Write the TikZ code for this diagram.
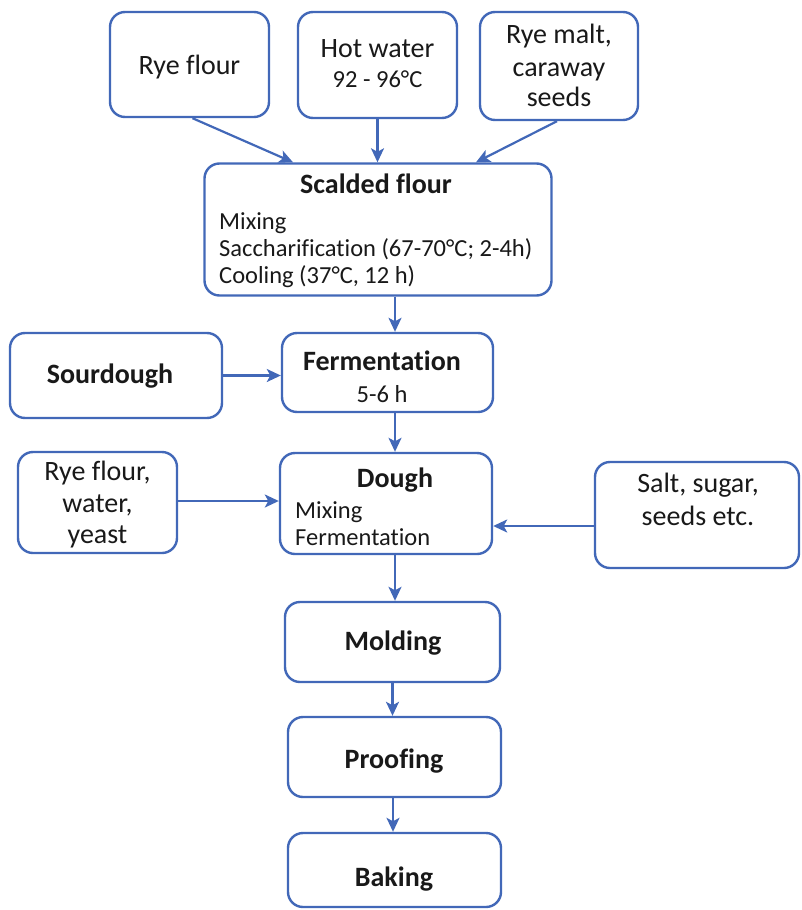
\documentclass[tikz,border=0pt]{standalone}
\usepackage{fontspec}
\setmainfont{Carlito}[Ligatures=NoCommon]
\usetikzlibrary{arrows.meta}
\definecolor{flowblue}{RGB}{66,104,184}
\definecolor{inkgrey}{RGB}{25,25,25}
\tikzset{
  stepbox/.style={draw=flowblue, line width=2.4pt, rounded corners=15pt, fill=white,
    inner sep=0pt, minimum width=#1},
  flow/.style={draw=flowblue, line width=2.2pt,
    -{Stealth[length=14pt,width=13pt,inset=3.5pt]}},
  big/.style={inner sep=0pt, text=inkgrey, font=\fontsize{28}{33}\selectfont, anchor=base},
  bigb/.style={big, font=\fontsize{28}{33}\selectfont\bfseries},
  small/.style={inner sep=0pt, text=inkgrey, font=\fontsize{24.5}{29}\selectfont, anchor=base},
  smallw/.style={small, anchor=base west},
}
\begin{document}
\begin{tikzpicture}[x=1pt, y=-1pt]
\useasboundingbox (0,0) rectangle (801,910);

% ---------- boxes ----------
\node[stepbox=159pt, minimum height=105pt] (ryeflour) at (189.5,64.5) {};
\node[stepbox=159pt, minimum height=106pt] (hotwater) at (377.5,65) {};
\node[stepbox=158pt, minimum height=108pt] (ryemalt)  at (559,66) {};
\node[stepbox=347pt, minimum height=132pt] (scalded)  at (378,229.5) {};
\node[stepbox=212pt, minimum height=85pt]  (sourdough) at (116,375.5) {};
\node[stepbox=211pt, minimum height=79pt]  (ferment)  at (387.5,372.5) {};
\node[stepbox=159pt, minimum height=101pt] (ryemix)   at (97.5,502.5) {};
\node[stepbox=212pt, minimum height=101pt] (dough)    at (386,503.5) {};
\node[stepbox=204pt, minimum height=106pt] (salt)     at (697,515) {};
\node[stepbox=215pt, minimum height=80pt]  (molding)  at (392.5,642) {};
\node[stepbox=213pt, minimum height=80pt]  (proofing) at (394.5,757) {};
\node[stepbox=213pt, minimum height=74pt]  (baking)   at (394.5,870) {};

% ---------- texts ----------
\node[big] (t-rf) at (189.5,74) {Rye flour};
\node[big] (t-hw1) at (377.5,57) {Hot water};
\node[small] (t-hw2) at (377.5,87) {92 - 96°C};
\node[big] (t-rm1) at (559,43) {Rye malt,};
\node[big] (t-rm2) at (559,76) {caraway};
\node[big] (t-rm3) at (559,106) {seeds};

\node[bigb] (t-sc) at (376,193) {Scalded flour};
\node[smallw] (t-sc1) at (219,229) {Mixing};
\node[smallw] (t-sc2) at (219,256) {Saccharification (67-70°C; 2-4h)};
\node[smallw] (t-sc3) at (219,283) {Cooling (37°C, 12 h)};

\node[bigb] (t-sd) at (110,383) {Sourdough};
\node[bigb] (t-fe1) at (382,370) {Fermentation};
\node[small] (t-fe2) at (382,402) {5-6 h};

\node[big] (t-rw1) at (97.5,480) {Rye flour,};
\node[big] (t-rw2) at (97.5,512) {water,};
\node[big] (t-rw3) at (97.5,543) {yeast};

\node[bigb] (t-do) at (395,487) {Dough};
\node[smallw] (t-do1) at (295,518) {Mixing};
\node[smallw] (t-do2) at (295,545) {Fermentation};

\node[big] (t-sa1) at (698,492) {Salt, sugar,};
\node[big] (t-sa2) at (698,525) {seeds etc.};

\node[bigb] (t-mo) at (393,650) {Molding};
\node[bigb] (t-pr) at (394,768) {Proofing};
\node[bigb] (t-ba) at (394,886) {Baking};

% ---------- connectors ----------
\draw[flow] ([xshift=3pt]ryeflour.south) -- ([xshift=-85pt]scalded.north);
\draw[flow] (hotwater.south) -- (hotwater.south |- scalded.north);
\draw[flow] ([xshift=-2pt]ryemalt.south) -- ([xshift=98pt]scalded.north);
\draw[flow] ([xshift=17pt]scalded.south) -- ([xshift=17pt]scalded.south |- ferment.north);
\draw[flow] (sourdough.east) -- (sourdough.east -| ferment.west);
\draw[flow] ([xshift=7.5pt]ferment.south) -- ([xshift=7.5pt]ferment.south |- dough.north);
\draw[flow] ([yshift=1.5pt]ryemix.east) -- ([yshift=1.5pt]ryemix.east -| dough.west);
\draw[flow] ([yshift=-11pt]salt.west) -- ([yshift=-11pt]salt.west -| dough.east);
\draw[flow] ([xshift=9pt]dough.south) -- ([xshift=9pt]dough.south |- molding.north);
\draw[flow] (molding.south) -- (molding.south |- proofing.north);
\draw[flow] ([xshift=-1.5pt]proofing.south) -- ([xshift=-1.5pt]proofing.south |- baking.north);
\end{tikzpicture}
\end{document}
